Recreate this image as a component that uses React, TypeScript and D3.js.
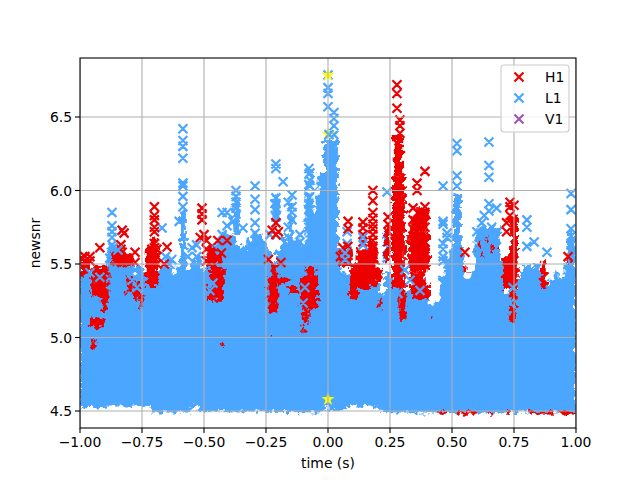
import React from "react";
import * as d3 from "d3";

type Column = [number, number[]];
type Patch = [number, number, number, number];

const tickTimes = [-1, -0.75, -0.5, -0.25, 0, 0.25, 0.5, 0.75, 1];
const tickSnrs = [4.5, 5, 5.5, 6, 6.5];
const legendLabels = ["H1", "L1", "V1"];
const legendColors = ["#ee0000", "#4ba6ff", "#9b59b6"];

const bodyTimes = [-1,-.98,-.96,-.94,-.92,-.9,-.88,-.86,-.84,-.82,-.8,-.78,-.76,-.74,-.72,-.7,-.68,-.66,-.64,-.62,-.6,-.58,-.56,-.54,-.52,-.5,-.48,-.46,-.44,-.42,-.4,-.38,-.36,-.34,-.32,-.3,-.28,-.26,-.24,-.22,-.2,-.18,-.16,-.14,-.12,-.1,-.08,-.06,-.04,-.02,0,.02,.04,.06,.08,.1,.12,.14,.16,.18,.2,.22,.24,.26,.28,.3,.32,.34,.36,.38,.4,.42,.44,.46,.48,.5,.52,.54,.56,.58,.6,.62,.64,.66,.68,.7,.72,.74,.76,.78,.8,.82,.84,.86,.88,.9,.92,.94,.96,.98,1];
const bodyTop = [5.46,5.45,5.43,5.43,5.45,5.49,5.6,5.62,5.55,5.53,5.5,5.43,5.5,5.45,5.39,5.36,5.45,5.49,5.47,5.43,5.5,5.52,5.46,5.52,5.55,5.46,5.56,5.63,5.66,5.72,5.7,5.68,5.63,5.61,5.66,5.7,5.7,5.66,5.6,5.5,5.6,5.7,5.66,5.66,5.66,5.63,5.66,5.85,5.95,6.0,5.95,5.95,5.6,5.45,5.43,5.42,5.44,5.4,5.38,5.4,5.38,5.3,5.45,5.4,5.35,5.32,5.32,5.32,5.32,5.32,5.34,5.22,5.25,5.42,5.55,5.62,5.65,5.6,5.4,5.45,5.62,5.68,5.72,5.7,5.65,5.52,5.3,5.3,5.35,5.45,5.5,5.48,5.5,5.45,5.35,5.4,5.45,5.4,5.5,5.7,5.6];
const floorTimes = [-1,-.88,-.8,-.72,-.7,-.56,-.545,-.53,-.52,-.02,-.01,0,.01,.07,.08,.2,.21,.28,1];
const floorSnr = [4.515,4.53,4.53,4.534,4.49,4.49,4.53,4.53,4.5,4.49,4.52,4.53,4.507,4.505,4.53,4.53,4.495,4.49,4.49];

const l1Dense: Patch[] = [
  [-.585,.012,5.45,5.87],[-.871,.012,5.45,5.56],[-.37,.012,5.7,5.95],[-.294,.012,5.45,5.72],
  [-.21,.014,5.8,5.98],[-.15,.008,5.53,5.92],[-.077,.014,5.6,6],[-.02,.022,5.5,6.12],
  [.012,.028,5.5,6.35],[.235,.01,5.5,5.72],[.52,.016,5.45,5.98],[.645,.05,5.5,5.75],[.98,.012,5.5,5.72],
];

const l1Marks: Column[] = [
  [-.871,[5.85,5.76,5.72,5.68,5.63,5.58,5.54]],[-.83,[5.73]],[-.88,[5.54]],[-.86,[5.5]],
  [-.669,[5.745]],[-.655,[5.55]],[-.64,[5.5]],[-.63,[5.53]],
  [-.585,[6.42,6.34,6.3,6.22,6.05,6.03,5.96,5.89]],[-.6,[5.79]],
  [-.548,[5.61]],[-.53,[5.55,5.63]],[-.565,[5.55]],
  [-.427,[5.85,5.7,5.65]],[-.407,[5.85,5.76]],[-.383,[5.79]],[-.371,[6,5.96,5.92,5.88,5.84]],[-.343,[5.745]],
  [-.294,[6.03,5.94,5.87,5.78,5.71,5.62,5.56]],
  [-.21,[6.18,6.15,5.95,5.91,5.87,5.82,5.78]],[-.181,[6.06]],[-.145,[5.97,5.89,5.85,5.8]],[-.16,[5.92,5.75,5.68]],[-.234,[5.7]],
  [-.077,[6.15,6.11,6.04,5.95,5.91,5.87,5.82,5.75]],[-.113,[5.7,5.65]],[-.073,[6.12,6.07,6.03]],
  [0,[6.786,6.7,6.66,6.57]],[.024,[6.53,6.49,6.44,6.38]],[.077,[5.72,5.64]],
  [.238,[5.99]],[.464,[6.03,5.79,5.77,5.64,5.6,5.55,5.52]],[.48,[5.71,5.68]],
  [.52,[6.32,6.27,6.1,6.03]],
  [.649,[6.33,6.17,6.09,5.91,5.86]],[.68,[5.88]],[.62,[5.78,5.7]],[.66,[5.75]],[.63,[5.83]],[.6,[5.72]],
  [.802,[5.8,5.75,5.62]],[.831,[5.65]],[.883,[5.58]],
  [.98,[5.98,5.87,5.74,5.69,5.63,5.59]],
];

const h1Dense: Patch[] = [
  [-.98,.02,5.42,5.52],[-.84,.03,5.5,5.58],[-.81,.03,5.5,5.56],[-.47,.02,5.5,5.62],[-.22,.012,5.42,5.5],[-.07,.02,5.42,5.48],
  [-.92,.035,5.28,5.48],[-.9,.012,5.17,5.3],[-.93,.03,5.07,5.13],[-.945,.008,4.92,4.99],
  [-.71,.025,5.35,5.62],[-.7,.012,5.6,5.68],[-.8,.012,5.3,5.42],[-.77,.012,5.25,5.38],[-.75,.006,5.2,5.3],
  [-.45,.03,5.25,5.48],[-.44,.01,5.5,5.56],[-.22,.02,5.17,5.42],[-.18,.02,5.37,5.4],[-.14,.02,5.31,5.35],
  [-.075,.035,5.2,5.42],[-.09,.012,5.1,5.2],[-.1,.006,5.03,5.08],[-.42,.008,4.93,4.96],[-.23,.004,5,5.03],
  [.284,.026,5.33,6.1],[.284,.019,6.1,6.38],[.3,.012,5.12,5.33],[.367,.044,5.45,5.72],[.38,.025,5.72,5.88],[.35,.015,5.72,5.83],[.36,.03,5.34,5.45],[.377,.034,5.26,5.36],
  [.075,.025,5.48,5.6],[.18,.02,5.35,5.65],[.14,.025,5.33,5.6],[.11,.012,5.42,5.5],[.105,.016,5.26,5.46],[.195,.025,5.39,5.46],
  [.21,.006,5.2,5.27],[.24,.01,5.5,5.75],[.42,.005,5.12,5.15],
  [.735,.03,5.33,5.56],[.75,.016,5.55,5.83],[.745,.012,5.1,5.33],[.87,.012,5.33,5.52],[.555,.008,5.44,5.49],
  [.61,.006,5.6,5.66],[.64,.004,5.65,5.68],[.66,.005,5.58,5.63],[.62,.004,5.55,5.58],[.69,.004,5.6,5.63],[.97,.005,5.5,5.55],
  [.46,.02,4.475,4.5],[.55,.03,4.475,4.5],[.59,.01,4.475,4.5],[.65,.005,4.475,4.5],[.73,.008,4.475,4.5],[.86,.045,4.475,4.5],[.967,.033,4.475,4.5],
];

const h1Marks: Column[] = [
  [-.995,[5.54]],[-.98,[5.55,5.52]],[-.96,[5.55,5.52]],[-.92,[5.61]],[-.85,[5.55,5.52]],
  [-.835,[5.63,5.6,5.55,5.52]],[-.83,[5.73,5.58,5.54,5.51]],[-.822,[5.71]],[-.81,[5.54,5.51]],[-.778,[5.58,5.51]],
  [-.7,[5.89,5.83,5.8,5.75,5.72,5.64,5.61,5.58,5.54]],[-.71,[5.6,5.55,5.5]],[-.69,[5.6,5.55,5.5]],[-.649,[5.615]],[-.66,[5.5]],
  [-.508,[5.88,5.84,5.8]],[-.515,[5.68]],[-.5,[5.7]],[-.49,[5.66,5.6,5.52]],[-.444,[5.66,5.54]],[-.47,[5.54,5.52]],[-.43,[5.575]],[-.407,[5.66]],
  [-.21,[5.78,5.7]],[-.225,[5.73]],[-.2,[5.72]],[-.24,[5.53]],[-.19,[5.51]],
  [.081,[5.79,5.74]],[.06,[5.61,5.56,5.52]],[.08,[5.62,5.56,5.51]],[.05,[5.55]],
  [.141,[5.785,5.745,5.7,5.65]],[.181,[6,5.93,5.85,5.81,5.77,5.74,5.7,5.66,5.62,5.58,5.54]],[.242,[5.82,5.77,5.72]],
  [.278,[6.72,6.66,6.56]],[.29,[6.48,6.44,6.39]],[.343,[5.88,5.8,5.74]],[.359,[6.05,6]],[.391,[6.13,5.89,5.85,5.75,5.65,5.58]],[.363,[5.85,5.76]],[.371,[5.81]],
  [.734,[5.92,5.89,5.83]],[.72,[5.72,5.78]],[.75,[5.9]],[.552,[5.58]],[.968,[5.55]],
];

const l1Overlay: Column[] = [
  [.141,[5.63,5.68]],[.069,[5.575,5.53]],[.331,[5.39]],[.31,[5.46]],[.371,[5.32]],[.282,[5.3]],
  [.746,[5.34]],[.734,[5.235]],[-.1,[5.235]],[-.093,[5.34]],[-.476,[5.32]],[-.464,[5.37]],
  [-.96,[5.44]],[-.92,[5.41]],[-.867,[5.61]],[-.847,[5.595]],[-.778,[5.46]],[-.79,[5.39]],[-.77,[5.34]],
  [.004,[6.38]],
];

const starTimes = [0, 0, 0];
const starSnrs = [6.786, 6.384, 4.58];

const x = d3.scaleLinear().domain([-1, 1]).range([80, 576]);
const y = d3.scaleLinear().domain([4.5, 6.5]).range([411, 117]);

const flat = (cols: Column[]) => cols.flatMap(([t, ss]) => ss.map((s) => [t, s] as [number, number]));
const crossPath = (px: number, py: number, r = 4.5) =>
  `M${px - r},${py - r}L${px + r},${py + r}M${px - r},${py + r}L${px + r},${py - r}`;
const marksPath = (cols: Column[]) => flat(cols).map(([t, s]) => crossPath(x(t), y(s))).join("");

const bodyPoints: [number, number][] = bodyTimes.map((t, i) => [t, bodyTop[i]] as [number, number]);
const floorPoints: [number, number][] = floorTimes
  .map((t, i) => [t, floorSnr[i]] as [number, number])
  .reverse();
const bodyD = (d3.line<[number, number]>().x((d) => x(d[0])).y((d) => y(d[1])).curve(d3.curveStep)(bodyPoints) as string) +
  "L" + (d3.line<[number, number]>().x((d) => x(d[0])).y((d) => y(d[1]))(floorPoints) as string).slice(1) + "Z";
const starD = d3.symbol().type(d3.symbolStar).size(55)() as string;

function Patches({ rows, color }: { rows: Patch[]; color: string }) {
  return (
    <g fill={color}>
      {rows.map(([t, hw, lo, hi], i) => (
        <rect key={i} x={x(t - hw)} width={x(t + hw) - x(t - hw)} y={y(hi)} height={y(lo) - y(hi)} />
      ))}
    </g>
  );
}

export default function App() {
  const font = "'DejaVu Sans', sans-serif";
  return (
    <svg width={640} height={480} style={{ position: "absolute", left: 0, top: 0, display: "block" }} fontFamily={font} fontSize={13.9}>
      <defs>
        <clipPath id="plot"><rect x={80} y={58} width={496} height={370} /></clipPath>
        <filter id="rough" filterUnits="userSpaceOnUse" x={60} y={40} width={540} height={410} colorInterpolationFilters="sRGB">
          <feTurbulence type="fractalNoise" baseFrequency={0.22} numOctaves={2} seed={4} result="n" />
          <feDisplacementMap in="SourceGraphic" in2="n" scale={11} xChannelSelector="R" yChannelSelector="G" />
        </filter>
      </defs>
      <rect width={640} height={480} fill="#fff" />
      <g clipPath="url(#plot)">
        <g filter="url(#rough)"><Patches rows={l1Dense} color="#4ba6ff" /></g>
        <path d={marksPath(l1Marks)} stroke="#4ba6ff" strokeWidth={2.2} fill="none" />
        <path d={bodyD} fill="#4ba6ff" filter="url(#rough)" />
        <g filter="url(#rough)"><Patches rows={h1Dense} color="#ee0000" /></g>
        <path d={marksPath(h1Marks)} stroke="#ee0000" strokeWidth={2.2} fill="none" />
        {starTimes.map((t, i) => (
          <path key={i} d={starD} transform={`translate(${x(t)},${y(starSnrs[i])})`} fill="#ffff00" />
        ))}
        <path d={marksPath(l1Overlay)} stroke="#4ba6ff" strokeWidth={2.2} fill="none" />
        {tickTimes.map((t) => <line key={t} x1={x(t)} x2={x(t)} y1={58} y2={428} stroke="#b0b0b0" strokeWidth={1.1} />)}
        {tickSnrs.map((s) => <line key={s} x1={80} x2={576} y1={y(s)} y2={y(s)} stroke="#b0b0b0" strokeWidth={1.1} />)}
      </g>
      <rect x={80} y={58} width={496} height={370} fill="none" stroke="#000" strokeWidth={1.1} />
      {tickTimes.map((t) => (
        <g key={t}>
          <line x1={x(t)} x2={x(t)} y1={428} y2={433} stroke="#000" strokeWidth={1.1} />
          <text x={x(t)} y={447} textAnchor="middle">{t.toFixed(2).replace("-", "\u2212")}</text>
        </g>
      ))}
      {tickSnrs.map((s) => (
        <g key={s}>
          <line x1={75} x2={80} y1={y(s)} y2={y(s)} stroke="#000" strokeWidth={1.1} />
          <text x={72} y={y(s) + 5} textAnchor="end">{s.toFixed(1)}</text>
        </g>
      ))}
      <text x={328} y={468} textAnchor="middle">time (s)</text>
      <text transform="translate(40,243) rotate(-90)" textAnchor="middle">newsnr</text>
      <rect x={501} y={65} width={68} height={67} rx={3} fill="#fff" fillOpacity={0.8} stroke="#ccc" strokeWidth={1.1} />
      {legendLabels.map((name, i) => (
        <g key={name}>
          <path d={crossPath(519, 77 + i * 21)} stroke={legendColors[i]} strokeWidth={2.2} fill="none" />
          <text x={545} y={82 + i * 21}>{name}</text>
        </g>
      ))}
    </svg>
  );
}
